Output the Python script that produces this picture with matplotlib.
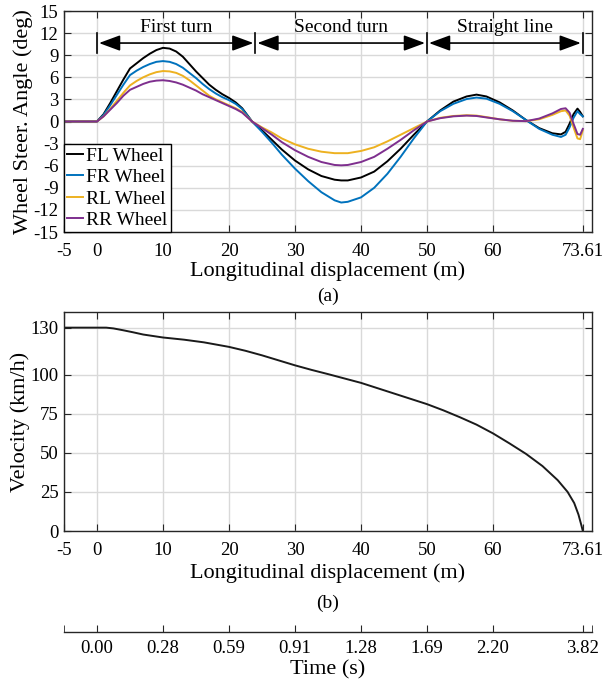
import matplotlib
matplotlib.use("Agg")
import matplotlib.pyplot as plt

plt.rcParams['font.family'] = ['Liberation Serif', 'DejaVu Serif']
plt.rcParams['axes.unicode_minus'] = False

# ---- steering angles along the path (deg) ----
disp = [-5, 0, 1, 2, 3, 4, 5, 6, 7, 8, 9, 10, 11, 12, 13, 14, 15, 16, 17, 18, 19,
        20, 21, 22, 23.5, 25, 26.5, 28, 30, 32, 34, 36, 37, 38, 40, 42, 44, 46, 48,
        50, 52, 54, 56, 57.5, 59, 61, 63, 65, 67, 69, 70.3, 71, 71.6, 72.2, 72.8,
        73.2, 73.61]
fl_wheel = [0, 0, 1.0, 2.5, 4.1, 5.7, 7.2, 7.9, 8.6, 9.2, 9.7, 10.0, 9.9, 9.5, 8.8,
            7.8, 6.8, 5.9, 5.0, 4.3, 3.7, 3.2, 2.6, 1.8, 0,
            -1.2, -2.5, -3.8, -5.3, -6.5, -7.4, -7.9, -8.0, -8.0, -7.6, -6.8, -5.4,
            -3.7, -1.8, 0, 1.5, 2.7, 3.4, 3.65, 3.4, 2.6, 1.5, 0.2, -0.9, -1.6,
            -1.75, -1.4, -0.3, 1.0, 1.75, 1.3, 0.7]
fr_wheel = [0, 0, 0.9, 2.2, 3.6, 5.0, 6.3, 6.9, 7.4, 7.8, 8.1, 8.2, 8.1, 7.8, 7.3,
            6.6, 5.9, 5.1, 4.4, 3.8, 3.3, 2.9, 2.4, 1.7, 0,
            -1.4, -2.9, -4.5, -6.4, -8.1, -9.6, -10.7, -11.0, -10.9, -10.3, -9.0,
            -7.1, -4.8, -2.3, 0, 1.4, 2.4, 3.05, 3.25, 3.1, 2.4, 1.4, 0.2, -1.0,
            -1.8, -2.1, -1.8, -0.8, 0.5, 1.4, 1.0, 0.7]
rl_wheel = [0, 0, 0.7, 1.7, 2.8, 3.9, 4.9, 5.5, 6.0, 6.4, 6.7, 6.85, 6.8, 6.6, 6.2,
            5.6, 4.9, 4.2, 3.5, 3.0, 2.6, 2.2, 1.8, 1.3, 0,
            -0.8, -1.5, -2.3, -3.1, -3.7, -4.1, -4.3, -4.3, -4.3, -4.0, -3.5, -2.7,
            -1.8, -0.9, 0, 0.5, 0.75, 0.85, 0.8, 0.6, 0.3, 0.1, 0.05, 0.3, 0.9,
            1.4, 1.5, 0.8, -0.8, -2.3, -2.4, -1.2]
rr_wheel = [0, 0, 0.7, 1.6, 2.5, 3.5, 4.3, 4.7, 5.1, 5.4, 5.55, 5.6, 5.5, 5.3, 5.0,
            4.6, 4.2, 3.7, 3.3, 2.9, 2.5, 2.1, 1.7, 1.2, 0,
            -0.9, -1.8, -2.8, -3.9, -4.8, -5.5, -5.9, -5.95, -5.9, -5.5, -4.8, -3.7,
            -2.5, -1.2, 0, 0.45, 0.7, 0.8, 0.75, 0.55, 0.3, 0.1, 0.05, 0.4, 1.1,
            1.7, 1.8, 1.2, -0.3, -1.7, -1.8, -1.0]
wheel_names = ['FL Wheel', 'FR Wheel', 'RL Wheel', 'RR Wheel']
wheel_colors = ['#000000', '#0072BD', '#EDB120', '#7E2F8E']

# ---- vehicle speed along the path (km/h) ----
vel_disp = [-5, 0, 1.4, 2.5, 4, 5.5, 7, 10, 13.2, 16.2, 20, 22.5, 25, 27.5, 30,
            32.5, 35, 40, 45, 50, 52.5, 55, 57.5, 60, 62.5, 65, 67.5, 69.8,
            71.3, 72.3, 72.95, 73.35, 73.61]
velocity = [130, 130, 130, 129.5, 128.3, 127.0, 125.6, 123.7, 122.3, 120.6, 117.7,
            115.2, 112.3, 109.1, 105.9, 103.0, 100.3, 94.7, 87.9, 81.1, 77.1, 72.7,
            68.0, 62.4, 56.0, 49.3, 41.5, 32.5, 25.0, 17.9, 10.5, 4.3, 0]

# ---- axis ticks ----
x_ticks = [-5, 0, 10, 20, 30, 40, 50, 60, 73.61]
x_tick_labels = ['-5', '0', '10', '20', '30', '40', '50', '60', '73.61']
angle_ticks = list(range(-15, 16, 3))
vel_ticks = [0, 25, 50, 75, 100, 130]
time_tick_pos = [0, 10, 20, 30, 40, 50, 60, 73.61]
time_tick_labels = ['0.00', '0.28', '0.59', '0.91', '1.28', '1.69', '2.20', '3.82']

# ---- manoeuvre phases ----
phase_edges = [0, 24, 50, 73.61]
phase_names = ['First turn', 'Second turn', 'Straight line']

W, H = 614, 681
fig = plt.figure(figsize=(W / 100, H / 100), dpi=100)

spine_col = '#262626'
grid_col = '#d9d9d9'
TICK_FS = 13.5
LAB_FS = 16


def style_axes(ax):
    ax.grid(True, color=grid_col, linewidth=1.0)
    ax.set_axisbelow(True)
    for s in ax.spines.values():
        s.set_color(spine_col)
        s.set_linewidth(1.0)
    ax.tick_params(direction='in', top=True, right=True, length=5,
                   color=spine_col, labelsize=TICK_FS)
    ax.tick_params(axis='x', pad=8)
    ax.tick_params(axis='y', pad=4)
    ax.set_xlim(-5, 75)
    ax.set_xticks(x_ticks)
    ax.set_xticklabels(x_tick_labels)


# ---------------- (a) steering angles ----------------
ax1 = fig.add_axes([64 / W, 1 - 232 / H, 528 / W, 221 / H])
style_axes(ax1)
for series, name, col in zip([fl_wheel, fr_wheel, rl_wheel, rr_wheel],
                             wheel_names, wheel_colors):
    ax1.plot(disp, series, color=col, linewidth=1.4, label=name)
ax1.set_ylim(-15, 15)
ax1.set_yticks(angle_ticks)
ax1.set_xlabel('Longitudinal displacement (m)', fontsize=LAB_FS, labelpad=1)
ax1.set_ylabel('Wheel Steer. Angle (deg)', fontsize=LAB_FS, labelpad=0)

leg = ax1.legend(loc='lower left', fontsize=14, frameon=True, fancybox=False,
                 edgecolor='black', framealpha=1, borderaxespad=0,
                 handlelength=0.85, handletextpad=0.15, labelspacing=0.2,
                 borderpad=0.15)
leg.get_frame().set_linewidth(1.0)

# phase markers with double-headed arrows
bar_lo, bar_hi, arrow_y, text_y = 9.3, 12.0, 10.65, 12.8
for xe in phase_edges:
    ax1.plot([xe, xe], [bar_lo, bar_hi], color='black', linewidth=1.2)
for a, b, name in zip(phase_edges[:-1], phase_edges[1:], phase_names):
    ax1.annotate('', xy=(b - 0.3, arrow_y), xytext=(a + 0.3, arrow_y),
                 arrowprops=dict(arrowstyle='<|-|>,head_length=0.65,head_width=0.24',
                                 mutation_scale=20, color='black', linewidth=1.2,
                                 shrinkA=0, shrinkB=0))
    ax1.text((a + b) / 2, text_y, name, ha='center', va='center', fontsize=14)

fig.text(328 / W, 1 - 296 / H, '(a)', ha='center', va='center', fontsize=14)

# ---------------- (b) velocity ----------------
ax2 = fig.add_axes([64 / W, 1 - 531 / H, 528 / W, 219 / H])
style_axes(ax2)
ax2.plot(vel_disp, velocity, color='#1a1a1a', linewidth=1.4)
ax2.set_ylim(0, 140)
ax2.set_yticks(vel_ticks)
ax2.set_xlabel('Longitudinal displacement (m)', fontsize=LAB_FS, labelpad=3)
ax2.set_ylabel('Velocity (km/h)', fontsize=LAB_FS, labelpad=0)

fig.text(328 / W, 1 - 603 / H, '(b)', ha='center', va='center', fontsize=14)

# ---------------- time axis ----------------
ax3 = fig.add_axes([64 / W, 1 - 632 / H, 528 / W, 0.0001])
ax3.set_xlim(-5, 75)
ax3.set_ylim(0, 1)
for side in ['top', 'left', 'right']:
    ax3.spines[side].set_visible(False)
ax3.spines['bottom'].set_color(spine_col)
ax3.spines['bottom'].set_linewidth(1.0)
ax3.set_yticks([])
ax3.set_xticks(time_tick_pos)
ax3.set_xticklabels(time_tick_labels)
ax3.set_xticks([-5, 75], minor=True)
ax3.tick_params(axis='x', which='both', direction='in', length=5, color=spine_col,
                labelsize=TICK_FS, pad=6)
ax3.patch.set_visible(False)
fig.text(328 / W, 1 - 670 / H, 'Time (s)', ha='center', va='center', fontsize=LAB_FS)

fig.savefig('out.png', dpi=100)
